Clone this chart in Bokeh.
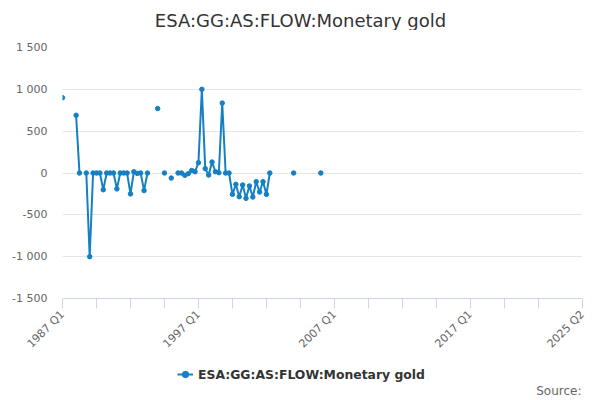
import math
from bokeh.plotting import figure
from bokeh.layouts import column
from bokeh.models import FixedTicker, Legend, LegendItem, ColumnDataSource, Range1d, Label
from bokeh.embed import file_html
from bokeh.resources import INLINE

# Quarterly categories 1987 Q1 .. 2025 Q2
quarters = [f"{y} Q{q}" for y in range(1987, 2026) for q in range(1, 5)][:154]

# Observed values (quarter -> value); all other quarters have no data
obs_quarters = [
    "1987 Q1", "1988 Q1", "1988 Q2", "1988 Q4", "1989 Q1", "1989 Q2", "1989 Q3", "1989 Q4",
    "1990 Q1", "1990 Q2", "1990 Q3", "1990 Q4", "1991 Q1", "1991 Q2", "1991 Q3", "1991 Q4",
    "1992 Q1", "1992 Q2", "1992 Q3", "1992 Q4", "1993 Q1", "1993 Q2",
    "1994 Q1", "1994 Q3", "1995 Q1", "1995 Q3", "1995 Q4",
    "1996 Q1", "1996 Q2", "1996 Q3", "1996 Q4", "1997 Q1", "1997 Q2", "1997 Q3", "1997 Q4",
    "1998 Q1", "1998 Q2", "1998 Q3", "1998 Q4", "1999 Q1", "1999 Q2",
    "1999 Q3", "1999 Q4", "2000 Q1", "2000 Q2", "2000 Q3", "2000 Q4",
    "2001 Q1", "2001 Q2", "2001 Q3", "2001 Q4", "2002 Q1", "2002 Q2",
    "2004 Q1", "2006 Q1",
]
obs_values = [
    900, 690, 0, 0, -1000, 0, 0, 0,
    -200, 0, 0, 0, -190, 0, 0, 0,
    -250, 15, -5, 0, -210, 0,
    770, 0, -60, 0, 0,
    -28, -8, 30, 15, 123, 1000, 52, -24,
    131, 15, 4, 836, 0, 0,
    -255, -135, -283, -143, -303, -155,
    -287, -104, -227, -104, -255, 0,
    0, 0,
]

y_ticks = [-1500, -1000, -500, 0, 500, 1000, 1500]
x_label_quarters = ["1987 Q1", "1997 Q1", "2007 Q1", "2017 Q1", "2025 Q2"]
series_name = "ESA:GG:AS:FLOW:Monetary gold"
title_text = "ESA:GG:AS:FLOW:Monetary gold"
source_text = "Source:"

lookup = dict(zip(obs_quarters, obs_values))
xs = list(range(len(quarters)))
ys = [lookup.get(q, float("nan")) for q in quarters]
src = ColumnDataSource(dict(x=xs, y=ys))

color = "#1580c4"
font = "DejaVu Sans"
W = 592
FRAME_W = 520


def blank(height):
    f = figure(width=W, height=height, output_backend="svg", toolbar_location=None,
               x_range=Range1d(0, FRAME_W), y_range=Range1d(0, height),
               x_axis_location=None, y_axis_location=None,
               min_border=0, min_border_left=0, min_border_right=0,
               min_border_top=0, min_border_bottom=0)
    f.outline_line_color = None
    f.grid.grid_line_color = None
    f.border_fill_color = "white"
    return f


# ---- title strip ----
head = blank(30)
head.add_layout(Label(x=238, y=10, x_units="screen", y_units="screen",
                      text=title_text, text_align="center",
                      text_baseline="middle", text_font=font, text_font_size="18px",
                      text_color="#333333"))

# ---- main chart ----
p = figure(frame_width=FRAME_W, frame_height=251, output_backend="svg", toolbar_location=None,
           x_range=Range1d(0, len(quarters) - 1), y_range=Range1d(-1500, 1500),
           min_border_left=62, min_border_right=10, min_border_top=17, min_border_bottom=0)
p.outline_line_color = None
p.background_fill_color = "white"
p.border_fill_color = "white"

line = p.line("x", "y", source=src, line_color=color, line_width=2)
dots = p.scatter("x", "y", source=src, size=4.5, fill_color=color, line_color=color)

tick_pos = list(range(0, 150, 10)) + [len(quarters) - 1]
p.xaxis.ticker = FixedTicker(ticks=tick_pos)
p.xaxis.major_label_overrides = {
    t: (quarters[t] if quarters[t] in x_label_quarters else "") for t in tick_pos
}
p.xaxis.axis_label = None
p.xaxis.major_label_orientation = math.pi / 4
p.xaxis.axis_line_color = "#ccd6eb"
p.xaxis.major_tick_line_color = "#ccd6eb"
p.xaxis.major_tick_out = 10
p.xaxis.major_tick_in = 0
p.xaxis.minor_tick_line_color = None
p.xaxis.major_label_text_font = font
p.xaxis.major_label_text_font_size = "11px"
p.xaxis.major_label_text_color = "#666666"
p.xaxis.major_label_standoff = 4
p.xgrid.grid_line_color = None

p.yaxis.ticker = FixedTicker(ticks=y_ticks)
p.yaxis.major_label_overrides = {v: f"{v:,}".replace(",", " ") for v in y_ticks}
p.yaxis.axis_label = None
p.yaxis.axis_line_color = None
p.yaxis.major_tick_line_color = None
p.yaxis.minor_tick_line_color = None
p.yaxis.major_label_text_font = font
p.yaxis.major_label_text_font_size = "11px"
p.yaxis.major_label_text_color = "#666666"
p.yaxis.major_label_standoff = 9
p.ygrid.grid_line_color = "#e6e6e6"
p.ygrid.ticker = FixedTicker(ticks=y_ticks)

# ---- legend / source strip ----
foot = blank(42)
legend_src = ColumnDataSource(dict(x=[float("nan")], y=[float("nan")]))
lg_line = foot.line("x", "y", source=legend_src, line_color=color, line_width=2)
lg_dots = foot.scatter("x", "y", source=legend_src, size=4.5, fill_color=color, line_color=color)
legend = Legend(items=[LegendItem(label=series_name, renderers=[lg_line, lg_dots])],
                location=(115, 18), orientation="horizontal",
                label_text_font=font, label_text_font_size="12.4px",
                label_text_font_style="bold", label_text_color="#333333",
                glyph_width=16, glyph_height=16, label_standoff=5,
                padding=0, margin=0, border_line_color=None,
                background_fill_alpha=0)
foot.add_layout(legend, "center")
foot.add_layout(Label(x=519, y=10, x_units="screen", y_units="screen",
                      text=source_text, text_align="right",
                      text_baseline="middle", text_font=font, text_font_size="12px",
                      text_color="#666666"))

layout = column(head, p, foot, spacing=0)
open("out.html", "w").write(file_html(layout, INLINE))
